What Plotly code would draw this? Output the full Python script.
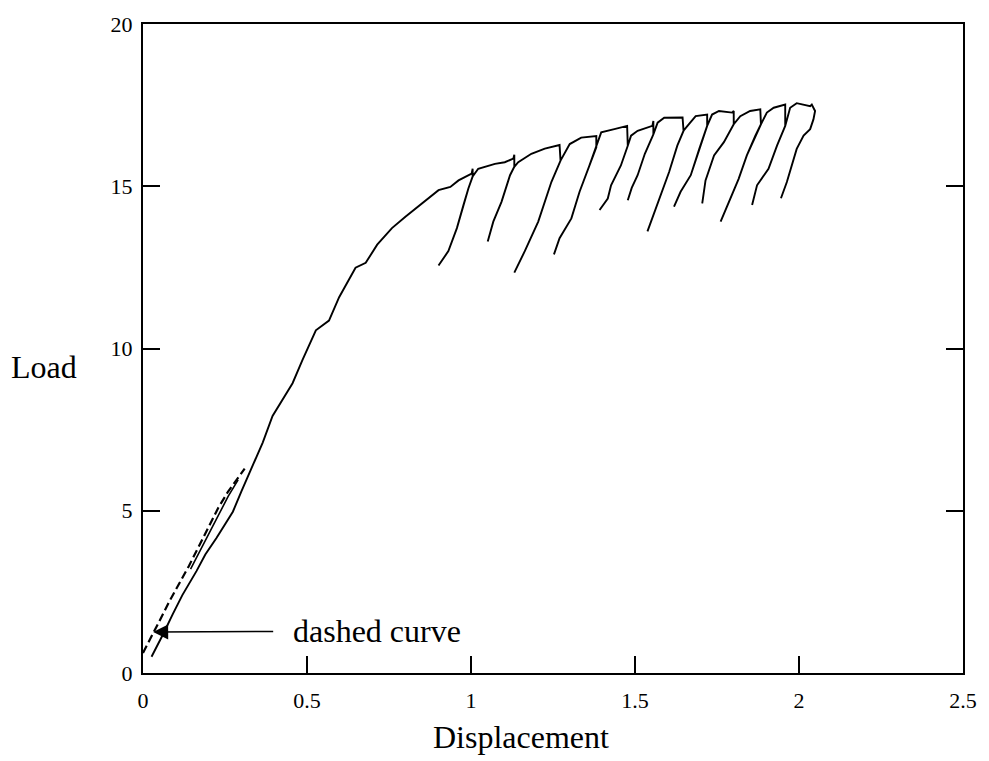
import plotly.graph_objects as go

# ---- data ----
# initial loading (solid) up to first peak
main_x = [0.026, 0.045, 0.062, 0.09, 0.12, 0.163, 0.19, 0.224, 0.25, 0.274, 0.30, 0.325, 0.345,
          0.365, 0.395, 0.426, 0.456, 0.486, 0.527, 0.567, 0.598, 0.648, 0.679, 0.714, 0.759,
          0.800, 0.850, 0.901, 0.937, 0.962, 1.002, 1.005]
main_y = [0.50, 0.85, 1.21, 1.80, 2.40, 3.14, 3.65, 4.16, 4.60, 4.97, 5.60, 6.19, 6.65,
          7.10, 7.92, 8.42, 8.93, 9.64, 10.56, 10.86, 11.58, 12.49, 12.64, 13.20, 13.71,
          14.06, 14.47, 14.88, 14.98, 15.18, 15.39, 15.54]

# unload/reload branches (from low point up to where they rejoin the envelope)
branch_x = [
    [0.901, 0.931, 0.957, 0.977, 0.992, 1.005],
    [1.051, 1.068, 1.093, 1.119, 1.132],
    [1.132, 1.164, 1.205, 1.245, 1.273],
    [1.253, 1.270, 1.306, 1.331, 1.361, 1.382],
    [1.392, 1.417, 1.427, 1.457, 1.478],
    [1.478, 1.490, 1.508, 1.530, 1.556],
    [1.538, 1.553, 1.579, 1.604, 1.629, 1.648],
    [1.619, 1.639, 1.670, 1.696, 1.720],
    [1.705, 1.715, 1.741, 1.771, 1.801],
    [1.761, 1.791, 1.816, 1.841, 1.867, 1.884],
    [1.857, 1.872, 1.907, 1.933, 1.958],
    [1.945, 1.963, 1.993, 2.014, 2.034, 2.044, 2.049],
]
branch_y = [
    [12.56, 13.00, 13.71, 14.42, 14.93, 15.30],
    [13.30, 13.91, 14.52, 15.34, 15.60],
    [12.34, 13.00, 13.91, 15.13, 15.79],
    [12.90, 13.40, 14.01, 14.83, 15.64, 16.20],
    [14.27, 14.62, 15.03, 15.64, 16.25],
    [14.57, 14.95, 15.34, 16.00, 16.60],
    [13.61, 14.01, 14.73, 15.44, 16.25, 16.71],
    [14.37, 14.83, 15.34, 16.15, 16.86],
    [14.47, 15.18, 15.95, 16.36, 16.91],
    [13.91, 14.63, 15.23, 15.95, 16.56, 16.91],
    [14.42, 15.03, 15.54, 16.25, 16.86],
    [14.63, 15.13, 16.15, 16.56, 16.76, 17.06, 17.32],
]

# envelope pieces after each branch rejoins, up to the next peak
env_x = [
    [1.022, 1.073, 1.103, 1.129, 1.132],
    [1.144, 1.184, 1.225, 1.270],
    [1.301, 1.336, 1.382],
    [1.397, 1.437, 1.476],
    [1.488, 1.508, 1.553, 1.556],
    [1.569, 1.589, 1.639, 1.645],
    [1.660, 1.685, 1.720],
    [1.735, 1.756, 1.796, 1.801],
    [1.821, 1.851, 1.882],
    [1.902, 1.923, 1.958],
    [1.973, 1.993, 2.034, 2.039],
    [],
]
env_y = [
    [15.54, 15.69, 15.74, 15.85, 15.97],
    [15.74, 16.00, 16.16, 16.27],
    [16.30, 16.50, 16.55],
    [16.66, 16.76, 16.86],
    [16.56, 16.71, 16.86, 17.01],
    [16.96, 17.11, 17.11, 17.12],
    [16.86, 17.16, 17.21],
    [17.21, 17.32, 17.27, 17.32],
    [17.16, 17.32, 17.37],
    [17.27, 17.42, 17.52],
    [17.42, 17.56, 17.47, 17.52],
    [],
]

# dashed curve near the origin
dashed_x = [0.0, 0.02, 0.05, 0.08, 0.11, 0.14, 0.17, 0.20, 0.23, 0.26, 0.29, 0.31]
dashed_y = [0.62, 1.00, 1.60, 2.20, 2.75, 3.30, 3.90, 4.50, 5.10, 5.60, 6.00, 6.30]

# short solid trace hugging the dashed curve
comp_x = [0.145, 0.17, 0.20, 0.23, 0.26, 0.29]
comp_y = [3.20, 3.70, 4.30, 4.90, 5.45, 5.95]

# ---- build continuous load path ----
px, py = list(main_x), list(main_y)
for bx, by, ex, ey in zip(branch_x, branch_y, env_x, env_y):
    px += bx[::-1] + bx + ex
    py += by[::-1] + by + ey

FONT = "Liberation Serif, Times New Roman, serif"
fig = go.Figure()
fig.add_trace(go.Scatter(x=px, y=py, mode="lines",
                         line=dict(color="black", width=1.9), showlegend=False))
fig.add_trace(go.Scatter(x=comp_x, y=comp_y, mode="lines",
                         line=dict(color="black", width=1.6), showlegend=False))
fig.add_trace(go.Scatter(x=dashed_x, y=dashed_y, mode="lines",
                         line=dict(color="black", width=2.2, dash="8px,4px"), showlegend=False))

fig.add_annotation(x=0.031, y=1.26, xref="x", yref="y",
                   ax=0.714, ay=1.30, axref="x", ayref="y",
                   text="dashed curve", showarrow=True,
                   arrowhead=2, arrowsize=2, arrowwidth=1.5, arrowcolor="black",
                   borderpad=20, borderwidth=0,
                   font=dict(family=FONT, size=32, color="black"))

fig.add_annotation(x=-0.1208, y=0.471, xref="paper", yref="paper",
                   xanchor="center", yanchor="middle",
                   text="Load", showarrow=False,
                   font=dict(family=FONT, size=32, color="black"))
fig.add_annotation(x=0.461, y=-0.099, xref="paper", yref="paper",
                   xanchor="center", yanchor="middle",
                   text="Displacement", showarrow=False,
                   font=dict(family=FONT, size=32, color="black"))

fig.update_layout(
    width=989, height=761,
    margin=dict(l=143, r=22, t=17, b=88),
    paper_bgcolor="white", plot_bgcolor="white",
    font=dict(family=FONT, size=22, color="black"),
    showlegend=False,
    xaxis=dict(range=[0, 2.5], tickvals=[0, 0.5, 1, 1.5, 2, 2.5],
               ticks="inside", ticklen=17, tickwidth=1.5, tickcolor="black",
               showline=True, linewidth=2, linecolor="black", mirror=True,
               showgrid=False, zeroline=False, ticklabelstandoff=7),
    yaxis=dict(range=[0, 20], tickvals=[0, 5, 10, 15, 20],
               ticks="inside", ticklen=17, tickwidth=1.5, tickcolor="black",
               showline=True, linewidth=2, linecolor="black", mirror="ticks",
               showgrid=False, zeroline=False, ticklabelstandoff=4),
)

fig.write_html("out.html")
